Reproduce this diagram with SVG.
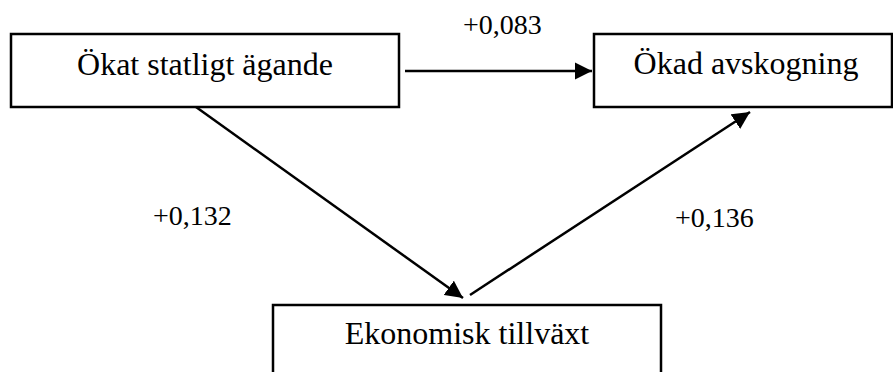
<svg xmlns="http://www.w3.org/2000/svg" width="893" height="372" viewBox="0 0 893 372">
<style>
.box{fill:#fff;stroke:#000;stroke-width:2.5}
.t{font-family:"Liberation Serif","Times New Roman",serif;fill:#000}
.n{font-size:32px;text-anchor:middle}
.l{font-size:28px}
.c{stroke:#000;stroke-width:2.5;fill:none;marker-end:url(#ah)}
</style>
<defs>
<marker id="ah" viewBox="0 0 10 10" refX="10" refY="5" markerWidth="7" markerHeight="7" markerUnits="strokeWidth" orient="auto">
<path d="M0,0 L10,5 L0,10 z" fill="#000"/>
</marker>
</defs>
<rect width="893" height="372" fill="#fff"/>
<g id="n1"><rect class="box" x="11" y="34" width="388" height="73"/><text class="t n" x="205" y="75">Ökat statligt ägande</text></g>
<g id="n2"><rect class="box" x="594" y="34" width="298" height="73"/><text class="t n" x="746" y="74">Ökad avskogning</text></g>
<g id="n3"><rect class="box" x="273" y="305" width="388" height="80"/><text class="t n" x="467" y="344">Ekonomisk tillväxt</text></g>
<g id="connectors">
<line class="c" x1="405" y1="71" x2="592" y2="71"/>
<line class="c" x1="196" y1="107" x2="463" y2="298"/>
<line class="c" x1="470" y1="295" x2="750" y2="112"/>
</g>
<g id="labels">
<text class="t l" x="463" y="34">+0,083</text>
<text class="t l" x="153" y="225">+0,132</text>
<text class="t l" x="675" y="227">+0,136</text>
</g>
</svg>
